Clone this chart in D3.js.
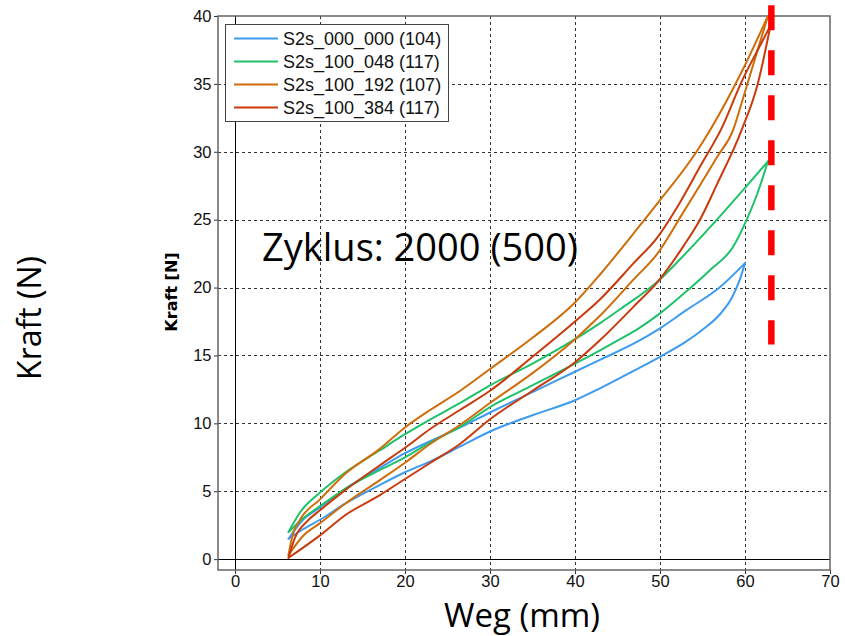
<!DOCTYPE html>
<html>
<head>
<meta charset="utf-8">
<script src="https://cdnjs.cloudflare.com/ajax/libs/d3/7.8.5/d3.min.js"></script>
<style>
  body { margin: 0; background: #fff; }
  svg { display: block; }
</style>
</head>
<body>
<div class="chart-container"></div>
<script>
// series names + colours
var seriesNames = ["S2s_000_000 (104)", "S2s_100_048 (117)", "S2s_100_192 (107)", "S2s_100_384 (117)"],
    seriesColors = ["#3d9bf0", "#1ec26a", "#cf6d0a", "#c93a0c"];

// hysteresis branches [Weg mm, Kraft N] (upper + lower per series)
var s000_000_upper = [[6.3,1.5],[8,2.9],[10,3.8],[13,5.2],[17,6.7],[20,7.8],[23,8.7],[26.5,9.7],[30,10.8],[35,12.3],
                      [40,13.8],[43,14.7],[47,15.9],[50,17.0],[53,18.3],[57,20.0],[60,21.8]],
    s000_000_lower = [[6.3,1.5],[8,2.2],[10,2.9],[13,4.1],[17,5.45],[20,6.4],[23,7.2],[26.5,8.3],[30,9.4],[35,10.6],
                      [40,11.7],[43,12.6],[47,13.9],[50,14.9],[53,16.0],[55,16.9],[57,18.0],[58.5,19.3],[59.4,20.6],[60,21.8]],
    s100_048_upper = [[6.3,2.0],[7.6,3.4],[10,4.9],[13,6.4],[17,8.0],[20,9.2],[23,10.3],[26.5,11.5],[30,12.8],[35,14.4],
                      [40,16.2],[43,17.4],[45.3,18.4],[50,20.6],[53,22.5],[56.7,25.0],[59.8,27.2],[62.7,29.3]],
    s100_048_lower = [[6.3,2.0],[8,3.0],[10,3.9],[13,5.2],[17,6.55],[20,7.5],[23,8.6],[26.5,9.75],[30,11.2],[35,12.8],
                      [40,14.4],[43,15.4],[45.3,16.2],[47.5,17.0],[50,18.1],[52.7,19.5],[55.9,21.3],[58.6,23.0],[60.2,25.0],[61.5,27.0],[62.7,29.3]],
    s100_192_upper = [[6.3,0.3],[6.7,1.6],[7.6,2.85],[10,4.4],[13,6.3],[17,8.1],[20,9.7],[23,11.0],[26.5,12.4],[30,14.0],
                      [35,16.3],[40,18.9],[43,21.0],[46.9,24.0],[49.7,26.2],[54.3,30.0],[55.9,31.6],[59.7,36.0],[62.7,40.0]],
    s100_192_lower = [[6.3,0.3],[8,1.7],[10,2.65],[13,4.1],[17,5.8],[20,7.1],[23,8.5],[26.5,9.9],[30,11.5],[35,13.7],
                      [40,16.2],[42.9,17.9],[46.9,20.6],[49.7,22.5],[52.7,25.5],[56.7,29.6],[58.6,31.6],[59.7,33.8],[62.7,40.0]],
    s100_384_upper = [[6.3,0.1],[7,1.5],[8.5,2.8],[10,3.6],[13,5.1],[17,6.9],[20,8.2],[23,9.6],[26.5,11.0],[30,12.4],
                      [35,14.9],[40,17.5],[42.9,19.1],[46.9,21.8],[49.7,23.7],[52,25.9],[54.7,28.9],[57.3,31.8],[59.7,35.3],[61.5,37.5],[63,39.3]],
    s100_384_lower = [[6.3,0.1],[10,1.75],[13,3.25],[17,4.7],[20,5.9],[23,7.1],[26.5,8.5],[30,10.3],[35,12.4],[40,14.5],
                      [42.9,16.1],[46.9,18.6],[49.7,20.4],[52.7,23.0],[54.7,25.0],[56.7,27.6],[59.6,31.6],[61.5,35.0],[63,39.3]];

var branches = [
    { s: 0, pts: s000_000_lower }, { s: 0, pts: s000_000_upper },
    { s: 1, pts: s100_048_lower }, { s: 1, pts: s100_048_upper },
    { s: 2, pts: s100_192_lower }, { s: 2, pts: s100_192_upper },
    { s: 3, pts: s100_384_lower }, { s: 3, pts: s100_384_upper }
];

var xTicks = [0, 10, 20, 30, 40, 50, 60, 70],
    yTicks = [0, 5, 10, 15, 20, 25, 30, 35, 40];

// limit marker (red dashed) at Weg ~63.1
var limitX = [63.1, 63.1],
    limitY = [15.8, 40.8];

var width = 845, height = 636,
    plot = { left: 218, right: 830, top: 16, bottom: 570 };

var svg = d3.select(".chart-container").append("svg")
    .attr("width", width)
    .attr("height", height);

var x = d3.scaleLinear()
    .domain([-2, 70])
    .range([plot.left, plot.right]);

var y = d3.scaleLinear()
    .domain([-0.8, 40])
    .range([plot.bottom, plot.top]);

// grid
var grid = svg.append("g").attr("stroke", "#333").attr("stroke-width", 1).attr("stroke-dasharray", "3,3");
grid.selectAll(".gx")
    .data(xTicks.filter(function(d) { return d > 0 && d < 70; }))
    .enter().append("line")
        .attr("x1", function(d) { return Math.round(x(d)) + 0.5; })
        .attr("x2", function(d) { return Math.round(x(d)) + 0.5; })
        .attr("y1", plot.top)
        .attr("y2", plot.bottom);
grid.selectAll(".gy")
    .data(yTicks.filter(function(d) { return d > 0 && d < 40; }))
    .enter().append("line")
        .attr("y1", function(d) { return Math.round(y(d)) + 0.5; })
        .attr("y2", function(d) { return Math.round(y(d)) + 0.5; })
        .attr("x1", plot.left)
        .attr("x2", plot.right);

// zero lines
svg.append("line")
    .attr("x1", Math.round(x(0)) + 0.5).attr("x2", Math.round(x(0)) + 0.5)
    .attr("y1", plot.top).attr("y2", plot.bottom)
    .attr("stroke", "#000");
svg.append("line")
    .attr("y1", Math.round(y(0)) + 0.5).attr("y2", Math.round(y(0)) + 0.5)
    .attr("x1", plot.left).attr("x2", plot.right)
    .attr("stroke", "#000");

// axes
var xAxis = svg.append("g")
    .attr("transform", "translate(0," + plot.bottom + ")")
    .call(d3.axisBottom(x).tickValues(xTicks).tickSize(4).tickPadding(1).tickSizeOuter(0));
var yAxis = svg.append("g")
    .attr("transform", "translate(" + plot.left + ",0)")
    .call(d3.axisLeft(y).tickValues(yTicks).tickSize(4).tickPadding(2.5).tickSizeOuter(0));
[xAxis, yAxis].forEach(function(a) {
    a.select(".domain").remove();
    a.selectAll(".tick line").attr("stroke", "#333");
    a.selectAll("text")
        .attr("fill", "#111")
        .style("font-family", "'Liberation Sans', Arial, sans-serif")
        .style("font-size", "16.5px");
});

// frame
svg.append("rect")
    .attr("x", plot.left).attr("y", plot.top)
    .attr("width", plot.right - plot.left)
    .attr("height", plot.bottom - plot.top)
    .attr("fill", "none")
    .attr("stroke", "#666")
    .attr("stroke-width", 1.5);

// curves
var line = d3.line()
    .x(function(d) { return x(d[0]); })
    .y(function(d) { return y(d[1]); })
    .curve(d3.curveMonotoneX);

svg.append("g")
    .selectAll("path")
    .data(branches)
    .enter().append("path")
        .attr("d", function(d) { return line(d.pts); })
        .attr("fill", "none")
        .attr("stroke", function(d) { return seriesColors[d.s]; })
        .attr("stroke-width", 2)
        .attr("stroke-linejoin", "round")
        .attr("stroke-linecap", "round");

// legend
var legend = svg.append("g");
legend.append("rect")
    .attr("x", 225.5).attr("y", 24.5)
    .attr("width", 223).attr("height", 97)
    .attr("fill", "#fff")
    .attr("stroke", "#444")
    .attr("stroke-width", 1);
var items = legend.selectAll(".item")
    .data(seriesNames)
    .enter().append("g")
        .attr("transform", function(d, i) { return "translate(0," + (38.5 + i * 23) + ")"; });
items.append("line")
    .attr("x1", 234).attr("x2", 278)
    .attr("stroke", function(d, i) { return seriesColors[i]; })
    .attr("stroke-width", 2);
items.append("text")
    .attr("x", 283).attr("y", 6.5)
    .attr("fill", "#111")
    .style("font-family", "'Liberation Sans', Arial, sans-serif")
    .style("font-size", "18px")
    .text(function(d) { return d; });

// red dashed limit
svg.append("line")
    .attr("x1", x(limitX[0])).attr("x2", x(limitX[1]))
    .attr("y1", y(limitY[1])).attr("y2", y(limitY[0]))
    .attr("stroke", "#ff0000")
    .attr("stroke-width", 6.5)
    .attr("stroke-dasharray", "25,20");

// labels
svg.append("text")
    .attr("transform", "translate(177,292) rotate(-90)")
    .attr("text-anchor", "middle")
    .style("font-family", "'DejaVu Sans', Verdana, sans-serif")
    .style("font-size", "16px")
    .style("font-weight", "bold")
    .text("Kraft [N]");

svg.append("text")
    .attr("transform", "translate(41,318) rotate(-90)")
    .attr("text-anchor", "middle")
    .style("font-family", "'Open Sans', sans-serif")
    .style("font-size", "32px")
    .text("Kraft (N)");

svg.append("text")
    .attr("x", 522).attr("y", 627)
    .attr("text-anchor", "middle")
    .style("font-family", "'Open Sans', sans-serif")
    .style("font-size", "33px")
    .text("Weg (mm)");

svg.append("text")
    .attr("x", 262).attr("y", 261)
    .style("font-family", "'Open Sans', sans-serif")
    .style("font-size", "38px")
    .text("Zyklus: 2000 (500)");
</script>
</body>
</html>
